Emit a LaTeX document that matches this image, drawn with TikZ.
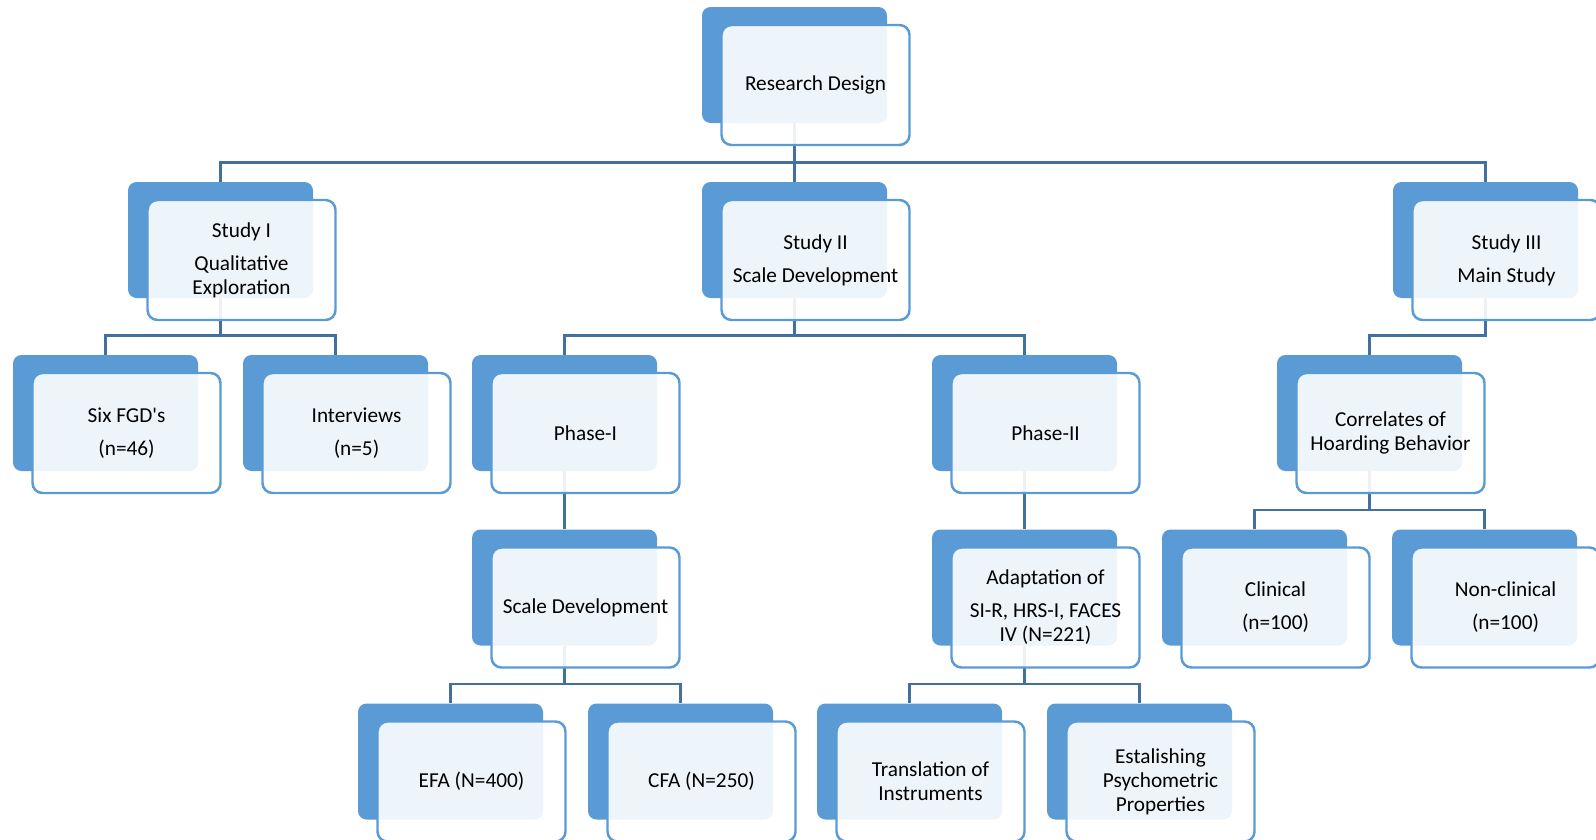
\documentclass[tikz,border=0pt]{standalone}
\usepackage{fontspec}
\setmainfont{Carlito}
\usetikzlibrary{calc}

\definecolor{backblue}{HTML}{5B9BD5}
\definecolor{linkblue}{HTML}{41719C}

\begin{document}
\begin{tikzpicture}[
    back/.style={fill=backblue, rounded corners=0.17cm, minimum width=3.7cm,
                 minimum height=2.32cm, inner sep=0pt},
    front/.style={draw=backblue, line width=1.4pt, fill=white, fill opacity=0.9,
                  text opacity=1, rounded corners=0.2cm, minimum width=3.76cm,
                  minimum height=2.4cm, inner sep=0pt, align=center,
                  font=\fontsize{12.1pt}{13.7pt}\selectfont},
    link/.style={draw=linkblue, line width=1.5pt}]
  \useasboundingbox (0,0) rectangle (31.92,-16.8);

  % Back cards
  \node[back] (rd)  at (15.89, -1.30) {};
  \node[back] (s1)  at (4.41, -4.80) {};
  \node[back] (s2)  at (15.89, -4.80) {};
  \node[back] (s3)  at (29.71, -4.80) {};
  \node[back] (fgd) at (2.11, -8.26) {};
  \node[back] (int) at (6.71, -8.26) {};
  \node[back] (p1)  at (11.29, -8.26) {};
  \node[back] (p2)  at (20.49, -8.26) {};
  \node[back] (cor) at (27.39, -8.26) {};
  \node[back] (sd)  at (11.29, -11.75) {};
  \node[back] (ad)  at (20.49, -11.75) {};
  \node[back] (cl)  at (25.09, -11.75) {};
  \node[back] (nc)  at (29.69, -11.75) {};
  \node[back] (efa) at (9.01, -15.23) {};
  \node[back] (cfa) at (13.61, -15.23) {};
  \node[back] (tr)  at (18.19, -15.23) {};
  \node[back] (es)  at (22.79, -15.23) {};

  % Tree links
  \draw[link] (rd.south) |- ([yshift=0.38cm]s1.north) -- (s1.north);
  \draw[link] (rd.south) -- (s2.north);
  \draw[link] (rd.south) |- ([yshift=0.38cm]s3.north) -- (s3.north);
  \draw[link] (s1.south) |- ([yshift=0.38cm]fgd.north) -- (fgd.north);
  \draw[link] (s1.south) |- ([yshift=0.38cm]int.north) -- (int.north);
  \draw[link] (s2.south) |- ([yshift=0.38cm]p1.north) -- (p1.north);
  \draw[link] (s2.south) |- ([yshift=0.38cm]p2.north) -- (p2.north);
  \draw[link] (s3.south) |- ([yshift=0.38cm]cor.north) -- (cor.north);
  \draw[link] (p1.south) -- (sd.north);
  \draw[link] (p2.south) -- (ad.north);
  \draw[link] (cor.south) |- ([yshift=0.38cm]cl.north) -- (cl.north);
  \draw[link] (cor.south) |- ([yshift=0.38cm]nc.north) -- (nc.north);
  \draw[link] (sd.south) |- ([yshift=0.38cm]efa.north) -- (efa.north);
  \draw[link] (sd.south) |- ([yshift=0.38cm]cfa.north) -- (cfa.north);
  \draw[link] (ad.south) |- ([yshift=0.38cm]tr.north) -- (tr.north);
  \draw[link] (ad.south) |- ([yshift=0.38cm]es.north) -- (es.north);

  % Front cards with the labels
  \node[front] (rdf)  at ([shift={(0.42,-0.40)}]rd.center) {Research Design};
  \node[front] (s1f)  at ([shift={(0.42,-0.40)}]s1.center) {Study I\\[5pt]Qualitative\\Exploration};
  \node[front] (s2f)  at ([shift={(0.42,-0.40)}]s2.center) {Study II\\[5pt]Scale Development};
  \node[front] (s3f)  at ([shift={(0.42,-0.40)}]s3.center) {Study III\\[5pt]Main Study};
  \node[front] (fgdf) at ([shift={(0.42,-0.40)}]fgd.center) {Six FGD\textquotesingle s\\[5pt](n=46)};
  \node[front] (intf) at ([shift={(0.42,-0.40)}]int.center) {Interviews\\[5pt](n=5)};
  \node[front] (p1f)  at ([shift={(0.42,-0.40)}]p1.center) {Phase-I};
  \node[front] (p2f)  at ([shift={(0.42,-0.40)}]p2.center) {Phase-II};
  \node[front] (corf) at ([shift={(0.42,-0.40)}]cor.center) {Correlates of\\Hoarding Behavior};
  \node[front] (sdf)  at ([shift={(0.42,-0.40)}]sd.center) {Scale Development};
  \node[front] (adf)  at ([shift={(0.42,-0.40)}]ad.center) {Adaptation of\\[5pt]SI-R, HRS-I, FACES\\IV (N=221)};
  \node[front] (clf)  at ([shift={(0.42,-0.40)}]cl.center) {Clinical\\[5pt](n=100)};
  \node[front] (ncf)  at ([shift={(0.42,-0.40)}]nc.center) {Non-clinical\\[5pt](n=100)};
  \node[front] (efaf) at ([shift={(0.42,-0.40)}]efa.center) {EFA (N=400)};
  \node[front] (cfaf) at ([shift={(0.42,-0.40)}]cfa.center) {CFA (N=250)};
  \node[front] (trf)  at ([shift={(0.42,-0.40)}]tr.center) {Translation of\\Instruments};
  \node[front] (esf)  at ([shift={(0.42,-0.40)}]es.center) {Estalishing\\Psychometric\\Properties};
\end{tikzpicture}
\end{document}
